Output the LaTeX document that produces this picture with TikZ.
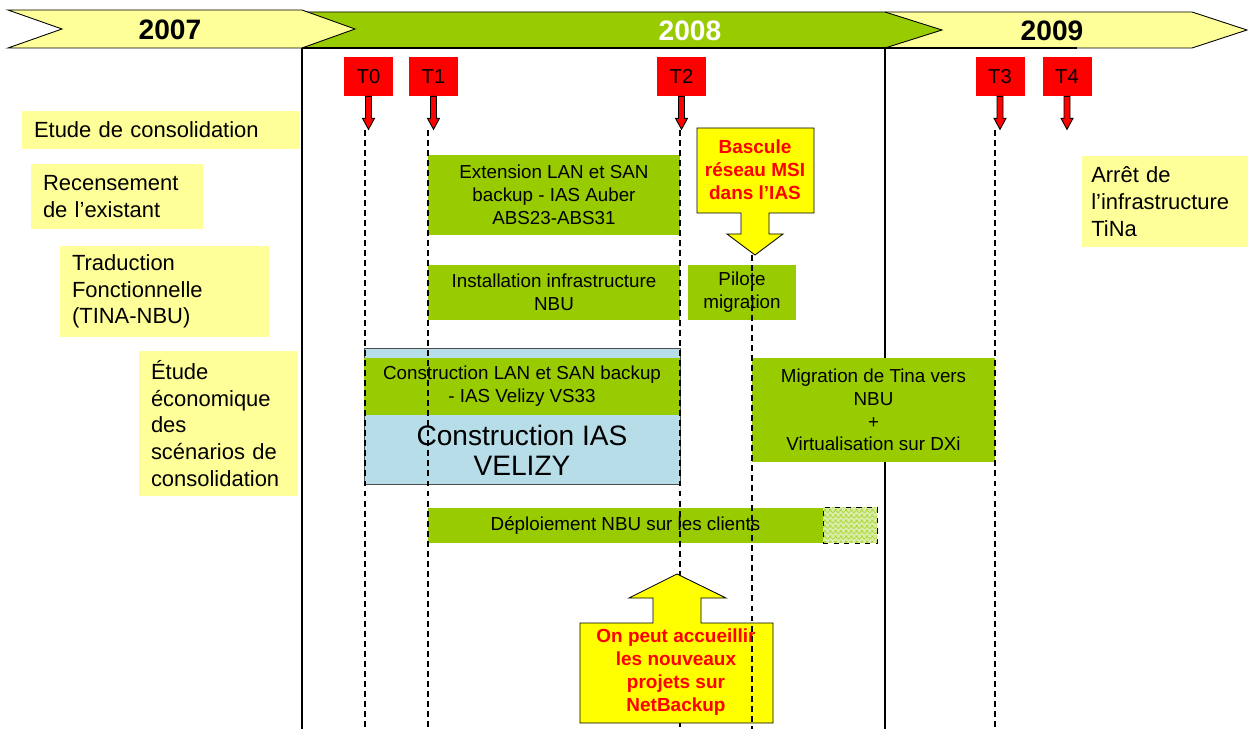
\documentclass[tikz,border=0pt]{standalone}
\usepackage{fontspec}
\setmainfont{Liberation Sans}
\usetikzlibrary{patterns}
\usepackage{xcolor}
\definecolor{barGreen}{HTML}{99CC00}
\definecolor{paleYellow}{HTML}{FFFF99}
\definecolor{calloutYellow}{HTML}{FFFF00}
\definecolor{siteBlue}{HTML}{B7DEE8}
\definecolor{hatchGreen}{HTML}{D8EDA8}
\tikzstyle{yearbar} = [
draw=black,
line width=0.5pt
]
\tikzstyle{yearlabel} = [
font=\fontsize{16pt}{19pt}\selectfont\bfseries
]
\tikzstyle{frame} = [
line width=1.4pt
]
\tikzstyle{milestone} = [
rectangle,
fill=red,
minimum width=0.98cm,
minimum height=0.78cm,
inner sep=0pt,
font=\fontsize{11.5pt}{13pt}\selectfont
]
\tikzstyle{phase} = [
rectangle,
fill=paleYellow,
align=left,
inner xsep=0.24cm,
inner ysep=0pt,
font=\fontsize{12.5pt}{15.2pt}\selectfont
]
\tikzstyle{task} = [
rectangle,
fill=barGreen,
align=center,
inner sep=1pt,
font=\fontsize{10.7pt}{13pt}\selectfont
]
\tikzstyle{callout} = [
draw=black,
line width=0.5pt,
fill=calloutYellow
]
\tikzstyle{callouttext} = [
align=center,
text=red,
font=\fontsize{10.8pt}{13pt}\selectfont\bfseries
]
\tikzstyle{guide} = [dash pattern=on 3.4pt off 2.3pt, line width=0.6pt]
\tikzset{tarrow/.pic={
\draw[fill=red, line width=0.5pt] (-3,0) -- (-3,22) -- (-6,22) -- (0,33) -- (6,22) -- (3,22) -- (3,0) -- cycle;
}}

\begin{document}
\begin{tikzpicture}[x=0.02cm, y=-0.02cm]

        \useasboundingbox (0,0) rectangle (1248,729);

        % bandeau des annees
        \draw[yearbar, fill=paleYellow] (885,12) -- (1192,12) -- (1247,30) -- (1192,48) -- (885,48) -- cycle;
        \draw[yearbar, fill=barGreen] (302,12) -- (885,12) -- (942,30) -- (885,48) -- (302,48) -- cycle;
        \draw[yearbar, fill=paleYellow] (8,10) -- (302,10) -- (355,29) -- (302,48) -- (8,48) -- (62,29) -- cycle;
        \draw[frame] (302,48) -- (1077,48);

        \node(y2007)[yearlabel] at (170,30) {2007};
        \node(y2008)[yearlabel, text=white] at (690,31) {2008};
        \node(y2009)[yearlabel] at (1052,31) {2009};

        \draw[frame] (302,48) -- (302,729);
        \draw[frame] (885,48) -- (885,729);

        % etudes
        \node(etude)[phase, text width=5.08cm, minimum height=0.76cm] at (161,130)
        {Etude de consolidation};

        \node(recens)[phase, text width=2.96cm, minimum height=1.3cm] at (117,196.5)
        {Recensement\\de l’existant};

        \node(traduc)[phase, text width=3.70cm, minimum height=1.82cm] at (164.5,291.5)
        {Traduction\\Fonctionnelle\\(TINA-NBU)};

        \node(econo)[phase, text width=2.70cm, minimum height=2.9cm] at (218.5,423.5)
        {Étude\\économique\\des\\scénarios de\\consolidation};

        \node(arret)[phase, text width=2.95cm, inner xsep=0.185cm, minimum height=1.82cm] at (1165,201.5)
        {Arrêt de\\l’infrastructure\\TiNa};

        % taches
        \node(extension)[task, minimum width=5.04cm, minimum height=1.6cm] at (554,195)
        {Extension LAN et SAN\\backup - IAS Auber\\ABS23-ABS31};

        \node(install)[task, minimum width=5.04cm, minimum height=1.1cm] at (554,292.5)
        {Installation infrastructure\\NBU};

        \node(pilote)[task, minimum width=2.16cm, minimum height=1.1cm] at (742,292.5)
        {Pilote\\migration};

        \node(velizy)[draw=black!70, line width=0.4pt, fill=siteBlue, minimum width=6.32cm, minimum height=2.72cm] at (522,416) {};

        \node(velizylan)[task, minimum width=6.32cm, minimum height=1.14cm] at (522,386.5)
        {Construction LAN et SAN backup\\- IAS Velizy VS33};

        \node(velizytext)[align=center, font=\fontsize{16pt}{17pt}\selectfont] at (522,450)
        {Construction IAS\\VELIZY};

        \node(migration)[task, minimum width=4.86cm, minimum height=2.08cm] at (873.5,410)
        {Migration de Tina vers\\NBU\\+\\Virtualisation sur DXi};

        \node(deploy)[task, minimum width=7.9cm, minimum height=0.7cm] at (625.5,525.5)
        {Déploiement NBU sur les clients};

        \node(deployext)[draw, dashed, line width=0.5pt, preaction={fill=hatchGreen}, pattern=crosshatch, pattern color=barGreen!80, minimum width=1.08cm, minimum height=0.72cm] at (850,525) {};

        % jalons
        \draw[guide] (365,130) -- (365,729);
        \draw[guide] (428,130) -- (428,729);
        \draw[guide] (680,130) -- (680,729);
        \draw[guide] (995,130) -- (995,729);

        \node(t0)[milestone] at (368.5,76.5) {T0};
        \node(t1)[milestone] at (433.5,76.5) {T1};
        \node(t2)[milestone] at (681.5,76.5) {T2};
        \node(t3)[milestone] at (1000,76.5) {T3};
        \node(t4)[milestone] at (1067,76.5) {T4};

        \pic at (t0.south) {tarrow};
        \pic at (t1.south) {tarrow};
        \pic at (t2.south) {tarrow};
        \pic at (t3.south) {tarrow};
        \pic at (t4.south) {tarrow};

        % bulles
        \draw[callout] (697,128) -- (814,128) -- (814,213) -- (769,213) -- (769,234) -- (783,234) -- (755,255)
        -- (727,234) -- (741,234) -- (741,213) -- (697,213) -- cycle;
        \node(bascule)[callouttext] at (755,170) {Bascule\\réseau MSI\\dans l’IAS};

        \draw[callout] (580,623) -- (653,623) -- (653,598) -- (629,598) -- (677,574) -- (726,598) -- (701,598)
        -- (701,623) -- (773,623) -- (773,723) -- (580,723) -- cycle;
        \node(accueil)[callouttext] at (676,672) {On peut accueillir\\les nouveaux\\projets sur\\NetBackup};

        \draw[guide] (752,255) -- (752,729);

        \end{tikzpicture}
\end{document}
